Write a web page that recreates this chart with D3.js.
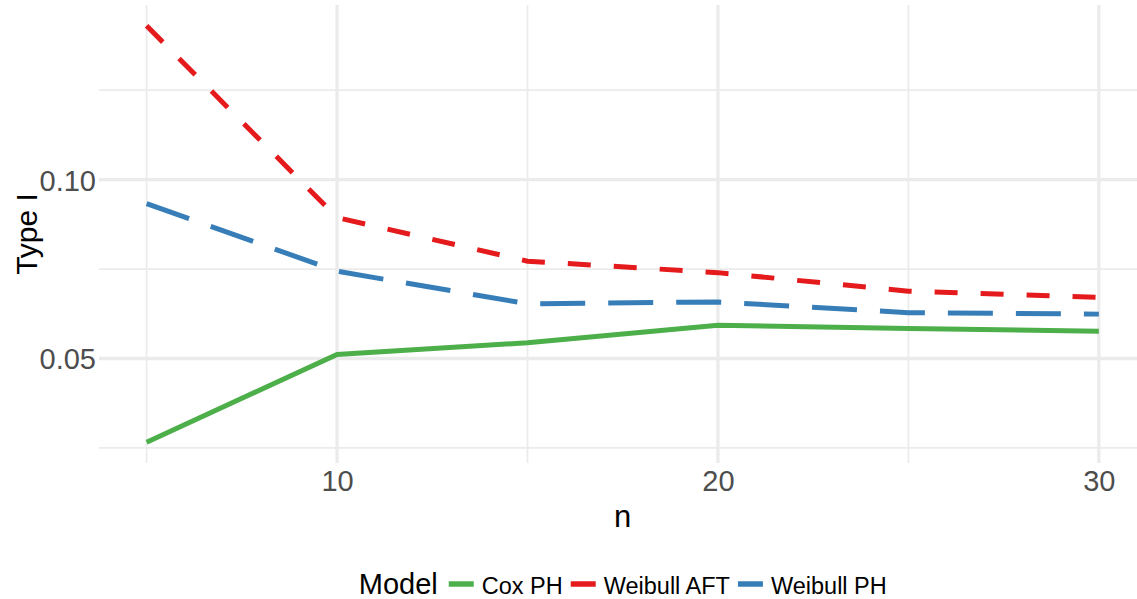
<!DOCTYPE html>
<html>
<head>
<meta charset="utf-8">
<script src="https://cdn.jsdelivr.net/npm/d3@7"></script>
<style>
  html, body { margin: 0; padding: 0; background: #fff; }
  svg { display: block; font-family: "Liberation Sans", Arial, Helvetica, sans-serif; }
</style>
</head>
<body>
<svg id="chart" width="1137" height="599"></svg>
<script>
// Sample sizes and estimated Type I error per model
const nValues = [5, 10, 15, 20, 25, 30];
const coxPH = [0.0266, 0.0511, 0.0544, 0.0593, 0.0584, 0.0576];
const weibullAFT = [0.1430, 0.0894, 0.0772, 0.0740, 0.0688, 0.0671];
const weibullPH = [0.0933, 0.0744, 0.0653, 0.0658, 0.0628, 0.0624];

const xMajorTicks = [10, 20, 30];
const xMinorTicks = [5, 15, 25];
const yMajorTicks = [0.05, 0.10];
const yMinorTicks = [0.025, 0.075, 0.125];

const seriesNames = ["Cox PH", "Weibull AFT", "Weibull PH"];
const seriesValues = [coxPH, weibullAFT, weibullPH];
const seriesColors = ["#4DAF4A", "#E41A1C", "#377EB8"];
const seriesDash = [null, "23,23", "45,23"];

const svg = d3.select("#chart");
const panel = { left: 99, top: 5, bottom: 463 };

// ggplot-style 5% expansion of the data range
function expand(lo, hi) {
  const pad = (hi - lo) * 0.05;
  return [lo - pad, hi + pad];
}
const allY = seriesValues.flat();
const xDom = expand(d3.min(nValues), d3.max(nValues));
const yDom = expand(d3.min(allY), d3.max(allY));
const pxPerN = 38.09;

const x = d3.scaleLinear().domain(xDom).range([panel.left, panel.left + (xDom[1] - xDom[0]) * pxPerN]);
const y = d3.scaleLinear().domain(yDom).range([panel.bottom, panel.top]);
const panelRight = x.range()[1];

// Grid lines
const grid = svg.append("g");
grid.selectAll(".ymin").data(yMinorTicks).enter().append("line")
  .attr("x1", panel.left).attr("x2", panelRight)
  .attr("y1", d => y(d)).attr("y2", d => y(d))
  .attr("stroke", "#EBEBEB").attr("stroke-width", 1.7);
grid.selectAll(".xmin").data(xMinorTicks).enter().append("line")
  .attr("y1", panel.top).attr("y2", panel.bottom)
  .attr("x1", d => x(d)).attr("x2", d => x(d))
  .attr("stroke", "#EBEBEB").attr("stroke-width", 1.7);
grid.selectAll(".ymaj").data(yMajorTicks).enter().append("line")
  .attr("x1", panel.left).attr("x2", panelRight)
  .attr("y1", d => y(d)).attr("y2", d => y(d))
  .attr("stroke", "#EBEBEB").attr("stroke-width", 3.3);
grid.selectAll(".xmaj").data(xMajorTicks).enter().append("line")
  .attr("y1", panel.top).attr("y2", panel.bottom)
  .attr("x1", d => x(d)).attr("x2", d => x(d))
  .attr("stroke", "#EBEBEB").attr("stroke-width", 3.3);

// Axes (labels only)
const xAxis = svg.append("g")
  .attr("transform", `translate(0,${panel.bottom})`)
  .call(d3.axisBottom(x).tickValues(xMajorTicks).tickSize(0).tickPadding(0).tickFormat(d3.format("d")));
xAxis.select(".domain").remove();
xAxis.selectAll("text")
  .attr("y", 28).attr("dy", null)
  .attr("font-size", 29).attr("fill", "#4D4D4D")
  .style("font-family", "'Liberation Sans', Arial, sans-serif");

const yAxis = svg.append("g")
  .attr("transform", `translate(${panel.left},0)`)
  .call(d3.axisLeft(y).tickValues(yMajorTicks).tickSize(0).tickPadding(0).tickFormat(d3.format(".2f")));
yAxis.select(".domain").remove();
yAxis.selectAll("text")
  .attr("x", -3).attr("dy", "0.36em")
  .attr("font-size", 29).attr("fill", "#4D4D4D")
  .style("font-family", "'Liberation Sans', Arial, sans-serif");

// Axis titles
const panelMidX = (panel.left + panelRight) / 2;
svg.append("text")
  .attr("x", panelMidX).attr("y", 527)
  .attr("text-anchor", "middle").attr("font-size", 31).attr("fill", "#000")
  .text("n");
svg.append("text")
  .attr("transform", `translate(37,${(panel.top + panel.bottom) / 2}) rotate(-90)`)
  .attr("text-anchor", "middle").attr("font-size", 30).attr("fill", "#000")
  .text("Type I");

// Series lines
const line = d3.line().x((d, i) => x(nValues[i])).y(d => y(d));
svg.append("g").selectAll("path").data(seriesValues).enter().append("path")
  .attr("d", d => line(d))
  .attr("fill", "none")
  .attr("stroke", (d, i) => seriesColors[i])
  .attr("stroke-width", 5)
  .attr("stroke-dasharray", (d, i) => seriesDash[i]);

// Legend along the bottom, centred under the panel
const legend = svg.append("g");
const legendBaseline = 594;
const title = legend.append("text")
  .attr("x", 0).attr("y", legendBaseline)
  .attr("font-size", 29).attr("fill", "#000").text("Model");
let cursor = title.node().getComputedTextLength() + 11;
seriesNames.forEach((name, i) => {
  legend.append("line")
    .attr("x1", cursor).attr("x2", cursor + 25)
    .attr("y1", 584).attr("y2", 584)
    .attr("stroke", seriesColors[i]).attr("stroke-width", 5.5);
  cursor += 25 + 8;
  const t = legend.append("text")
    .attr("x", cursor).attr("y", legendBaseline)
    .attr("font-size", 23.5).attr("fill", "#000").text(name);
  cursor += t.node().getComputedTextLength() + 8;
});
const legendWidth = cursor - 8;
legend.attr("transform", `translate(${panelMidX - legendWidth / 2},0)`);
</script>
</body>
</html>
